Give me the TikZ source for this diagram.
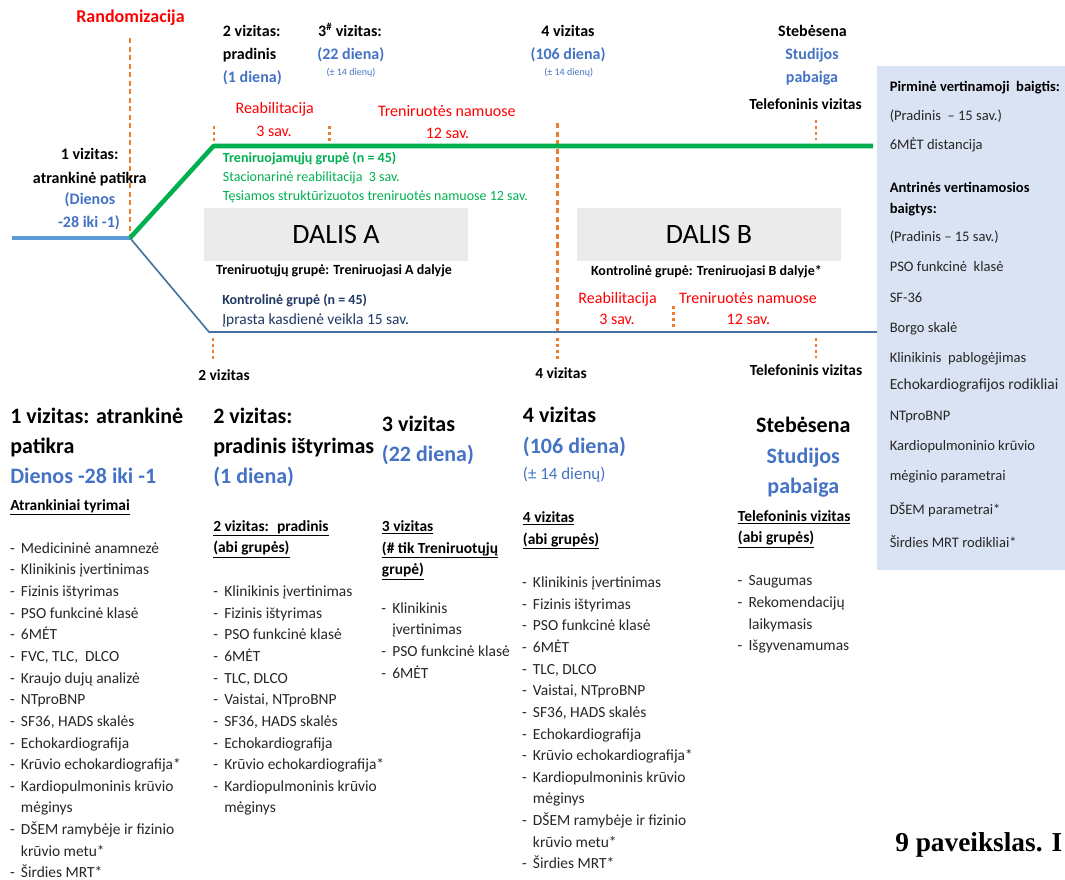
\documentclass[tikz,border=0pt]{standalone}
\usepackage{fontspec}
\setmainfont{Carlito}
\newfontfamily\capfont{Liberation Serif}
\definecolor{ored}{HTML}{FF0000}
\definecolor{ablue}{HTML}{4472C4}
\definecolor{ogreen}{HTML}{00B050}
\definecolor{oorange}{HTML}{ED7D31}
\definecolor{navy}{HTML}{203864}
\definecolor{boxblue}{HTML}{DAE3F3}
\definecolor{boxgray}{HTML}{EBEBEB}
\definecolor{lblue}{HTML}{5B9BD5}
\definecolor{tblue}{HTML}{41719C}
\definecolor{txtgray}{HTML}{262626}
\newcommand\dsh{\llap{-\hspace{4.6pt}}}
\tikzset{
  every node/.style={inner sep=0pt},
  ctr/.style={anchor=mid},
  lw/.style={anchor=mid west},
  hd/.style={font=\fontsize{12}{14}\selectfont\bfseries},
  hdb/.style={hd, text=ablue},
  rdt/.style={ctr, font=\fontsize{12}{14}\selectfont, text=ored},
  smb/.style={ctr, font=\fontsize{7.5}{9}\selectfont, text=ablue},
  gbt/.style={lw, font=\fontsize{10.5}{12}\selectfont\bfseries, text=ogreen},
  grt/.style={lw, font=\fontsize{10.5}{12}\selectfont, text=ogreen},
  bigt/.style={font=\fontsize{16.5}{19}\selectfont\bfseries},
  bigb/.style={bigt, text=ablue},
  subt/.style={lw, font=\fontsize{11.6}{14}\selectfont\bfseries},
  itemt/.style={lw, font=\fontsize{11.6}{14}\selectfont, text=txtgray},
  bxt/.style={lw, font=\fontsize{10.9}{13}\selectfont, text=txtgray},
  bxbt/.style={lw, font=\fontsize{10.9}{13}\selectfont\bfseries, text=black},
  dalis/.style={fill=boxgray, minimum width=198pt, minimum height=39.75pt, font=\fontsize{21}{24}\selectfont},
  odash/.style={draw=oorange, line width=2.2pt, dash pattern=on 3.8pt off 2.6pt},
  odot/.style={draw=oorange, line width=2.2pt, dash pattern=on 2.2pt off 2.2pt},
}
\begin{document}
\begin{tikzpicture}[x=0.75pt,y=-0.75pt]
\useasboundingbox (0,0) rectangle (1065,880);

% outcome box and part boxes
\node[fill=boxblue, anchor=north west, minimum width=141pt, minimum height=378pt] (outbox) at (877,66) {};
\node[dalis] (dalisA) at (336,234.5) {DALIS A};
\node[dalis] (dalisB) at (709,234.5) {DALIS B};

% timeline coordinates
\coordinate (start) at (12,238);
\coordinate (rand) at (130,238);
\coordinate (gknee) at (213.5,146);
\coordinate (gend) at (873,146);
\coordinate (bknee) at (209,332);
\coordinate (bend) at (877,332);

% orange markers
\coordinate (r1) at (130,38);
\draw[odash] (r1) -- (rand);
\coordinate (m1a) at (214,126); \coordinate (m1b) at (214,144);
\draw[odot] (m1a) -- (m1b);
\coordinate (m2a) at (329.3,126); \coordinate (m2b) at (329.3,145);
\draw[odot] (m2a) -- (m2b);
\coordinate (m3a) at (557.3,123); \coordinate (m3b) at (557.3,331);
\draw[odash] (m3a) -- (m3b);
\coordinate (m4a) at (816,120); \coordinate (m4b) at (816,140);
\draw[odot] (m4a) -- (m4b);
\coordinate (m5a) at (673.3,306); \coordinate (m5b) at (673.3,327);
\draw[odot] (m5a) -- (m5b);
\coordinate (m6a) at (213,338); \coordinate (m6b) at (213,359);
\draw[odot] (m6a) -- (m6b);
\coordinate (m7a) at (557.3,338); \coordinate (m7b) at (557.3,359);
\draw[odot] (m7a) -- (m7b);
\coordinate (m8a) at (816,338); \coordinate (m8b) at (816,358);
\draw[odot] (m8a) -- (m8b);

% timeline lines
\draw[tblue, line width=1.2pt] (rand) -- (bknee) -- (bend);
\draw[lblue, line width=2.6pt] (start) -- (rand);
\draw[ogreen, line width=3.4pt, line join=round] (rand) -- (gknee) -- (gend);

% top labels
\node[ctr, font=\fontsize{13.5}{16}\selectfont\bfseries, text=ored] (randlbl) at (130.5,19) {Randomizacija};
\node[lw, hd] (v2a) at (222.7,33) {2 vizitas:};
\node[lw, hd] (v2b) at (222.7,56.7) {pradinis};
\node[lw, hdb] (v2c) at (222.7,79) {(1 diena)};
\node[ctr, hd] (v3a) at (350,33.3) {3\textsuperscript{\#} vizitas:};
\node[ctr, hdb] (v3b) at (350.8,56.7) {(22 diena)};
\node[smb] (v3c) at (351,72.7) {(± 14 dienų)};
\node[ctr, hd] (v4a) at (568,33.3) {4 vizitas};
\node[ctr, hdb] (v4b) at (568,56.7) {(106 diena)};
\node[smb] (v4c) at (568.7,72.7) {(± 14 dienų)};
\node[ctr, hd] (s1) at (812.5,33.3) {Stebėsena};
\node[ctr, hdb] (s2) at (812,56.7) {Studijos};
\node[ctr, hdb] (s3) at (812,79) {pabaiga};
\node[ctr, font=\fontsize{11.6}{14}\selectfont\bfseries] (tel1) at (805.5,106.7) {Telefoninis vizitas};
\node[rdt] (reA1) at (274.7,110.7) {Reabilitacija};
\node[rdt] (reA2) at (274,133.3) {3 sav.};
\node[rdt] (hmA1) at (446.8,113.3) {Treniruotės namuose};
\node[rdt] (hmA2) at (447.5,135) {12 sav.};
\node[ctr, hd] (v1a) at (89.7,156.7) {1 vizitas:};
\node[ctr, hd] (v1b) at (89.8,180) {atrankinė patikra};
\node[ctr, hdb] (v1c) at (90,201.7) {(Dienos};
\node[ctr, hdb] (v1d) at (89,224) {-28 iki -1)};

% group texts
\node[gbt] (g1) at (222.7,159.3) {Treniruojamųjų grupė (n = 45)};
\node[grt] (g2) at (222.7,178.3) {Stacionarinė reabilitacija~ 3 sav.};
\node[grt] (g3) at (222.7,197.7) {Tęsiamos struktūrizuotos treniruotės namuose 12 sav.};
\node[ctr, font=\fontsize{10.5}{12}\selectfont\bfseries] (ta) at (334,271) {Treniruotųjų grupė: Treniruojasi A dalyje};
\node[lw, font=\fontsize{10.5}{12}\selectfont\bfseries, text=navy] (k1) at (222,301) {Kontrolinė grupė (n = 45)};
\node[lw, font=\fontsize{11.6}{14}\selectfont, text=navy] (k2) at (222,321) {Įprasta kasdienė veikla 15 sav.};
\node[ctr, font=\fontsize{10.5}{12}\selectfont\bfseries] (tb) at (706.4,272) {Kontrolinė grupė: Treniruojasi B dalyje*};
\node[rdt] (reB1) at (617.6,300) {Reabilitacija};
\node[rdt] (reB2) at (617,321) {3 sav.};
\node[rdt] (hmB1) at (748,300) {Treniruotės namuose};
\node[rdt] (hmB2) at (748.4,321) {12 sav.};
\node[ctr, font=\fontsize{11.6}{14}\selectfont\bfseries] (b2) at (224,377) {2 vizitas};
\node[ctr, font=\fontsize{11.6}{14}\selectfont\bfseries] (b4) at (561,375) {4 vizitas};
\node[ctr, font=\fontsize{11.6}{14}\selectfont\bfseries] (b5) at (806,372) {Telefoninis vizitas};

% outcome box texts
\node[bxbt] (o1) at (889.5,88) {Pirminė vertinamoji~ baigtis:};
\node[bxt] (o2) at (889.5,117) {(Pradinis~ – 15 sav.)};
\node[bxt] (o3) at (889.5,146) {6MĖT distancija};
\node[bxbt] (o4) at (889.5,189) {Antrinės vertinamosios};
\node[bxbt] (o5) at (889.5,210) {baigtys:};
\node[bxt] (o6) at (889.5,238) {(Pradinis – 15 sav.)};
\node[bxt] (o7) at (889.5,268) {PSO funkcinė~ klasė};
\node[bxt] (o8) at (889.5,299) {SF-36};
\node[bxt] (o9) at (889.5,329) {Borgo skalė};
\node[bxt] (o10) at (889.5,359) {Klinikinis~ pablogėjimas};
\node[lw, font=\fontsize{11.6}{14}\selectfont, text=txtgray] (o11) at (889.5,386) {Echokardiografijos rodikliai};
\node[bxt] (o12) at (889.5,417) {NTproBNP};
\node[bxt] (o13) at (889.5,447) {Kardiopulmoninio krūvio};
\node[bxt] (o14) at (889.5,477) {mėginio parametrai};
\node[bxt] (o15) at (889.5,511) {DŠEM parametrai*};
\node[bxt] (o16) at (889.5,544) {Širdies MRT rodikliai*};

% column 1
\node[lw, bigt] (c1h1) at (10,420) {1 vizitas: atrankinė};
\node[lw, bigt] (c1h2) at (10,450) {patikra};
\node[lw, bigb] (c1h3) at (10,480) {Dienos -28 iki -1};
\node[subt] (c1s) at (10,507) {\underline{Atrankiniai tyrimai}};
\foreach \t [count=\i] in {{\dsh Medicininė anamnezė},{\dsh Klinikinis įvertinimas},{\dsh Fizinis ištyrimas},{\dsh PSO funkcinė klasė},{\dsh 6MĖT},{\dsh FVC, TLC,~ DLCO},{\dsh Kraujo dujų analizė},{\dsh NTproBNP},{\dsh SF36, HADS skalės},{\dsh Echokardiografija},{\dsh Krūvio echokardiografija*},{\dsh Kardiopulmoninis krūvio},{mėginys},{\dsh DŠEM ramybėje ir fizinio},{krūvio metu*},{\dsh Širdies MRT*}}
  \node[itemt] (c1-\i) at (20.7,{550+(\i-1)*21.65}) {\t};

% column 2
\node[lw, bigt] (c2h1) at (213,420) {2 vizitas:};
\node[lw, bigt] (c2h2) at (213,450) {pradinis ištyrimas};
\node[lw, bigb] (c2h3) at (213,480) {(1 diena)};
\node[subt] (c2s1) at (213,528) {\underline{2 vizitas:~ pradinis}};
\node[subt] (c2s2) at (213,549.3) {\underline{(abi grupės)}};
\foreach \t [count=\i] in {{\dsh Klinikinis įvertinimas},{\dsh Fizinis ištyrimas},{\dsh PSO funkcinė klasė},{\dsh 6MĖT},{\dsh TLC, DLCO},{\dsh Vaistai, NTproBNP},{\dsh SF36, HADS skalės},{\dsh Echokardiografija},{\dsh Krūvio echokardiografija*},{\dsh Kardiopulmoninis krūvio},{mėginys}}
  \node[itemt] (c2-\i) at (224,{593.3+(\i-1)*21.65}) {\t};

% column 3
\node[lw, bigt] (c3h1) at (381.7,428) {3 vizitas};
\node[lw, bigb] (c3h2) at (381.7,458) {(22 diena)};
\node[subt] (c3s1) at (381.7,528) {\underline{3 vizitas}};
\node[subt] (c3s2) at (381.7,550) {\underline{(\# tik Treniruotųjų}};
\node[subt] (c3s3) at (381.7,571.7) {\underline{grupė)}};
\foreach \t [count=\i] in {{\dsh Klinikinis},{įvertinimas},{\dsh PSO funkcinė klasė},{\dsh 6MĖT}}
  \node[itemt] (c3-\i) at (392,{610+(\i-1)*21.65}) {\t};

% column 4
\node[lw, bigt] (c4h1) at (522.7,419.3) {4 vizitas};
\node[lw, bigb] (c4h2) at (522.7,450) {(106 diena)};
\node[lw, font=\fontsize{12.7}{15}\selectfont, text=ablue] (c4h3) at (522.7,476.7) {(± 14 dienų)};
\node[subt] (c4s1) at (522.7,519.3) {\underline{4 vizitas}};
\node[subt] (c4s2) at (522.7,541) {\underline{(abi grupės)}};
\foreach \t [count=\i] in {{\dsh Klinikinis įvertinimas},{\dsh Fizinis ištyrimas},{\dsh PSO funkcinė klasė},{\dsh 6MĖT},{\dsh TLC, DLCO},{\dsh Vaistai, NTproBNP},{\dsh SF36, HADS skalės},{\dsh Echokardiografija},{\dsh Krūvio echokardiografija*},{\dsh Kardiopulmoninis krūvio},{mėginys},{\dsh DŠEM ramybėje ir fizinio},{krūvio metu*},{\dsh Širdies MRT*}}
  \node[itemt] (c4-\i) at (532.7,{584.3+(\i-1)*21.65}) {\t};

% column 5
\node[ctr, bigt] (c5h1) at (803.3,429.3) {Stebėsena};
\node[ctr, bigb] (c5h2) at (803.3,460) {Studijos};
\node[ctr, bigb] (c5h3) at (803.3,490) {pabaiga};
\node[subt] (c5s1) at (737.7,518.3) {\underline{Telefoninis vizitas}};
\node[subt] (c5s2) at (737.7,539.3) {\underline{(abi grupės)}};
\foreach \t [count=\i] in {{\dsh Saugumas},{\dsh Rekomendacijų},{laikymasis},{\dsh Išgyvenamumas}}
  \node[itemt] (c5-\i) at (748.3,{582.7+(\i-1)*21.65}) {\t};

% caption
\node[lw, font=\capfont\bfseries\fontsize{20.5}{23}\selectfont] (cap) at (895,848) {9 paveikslas. I};
\end{tikzpicture}
\end{document}
